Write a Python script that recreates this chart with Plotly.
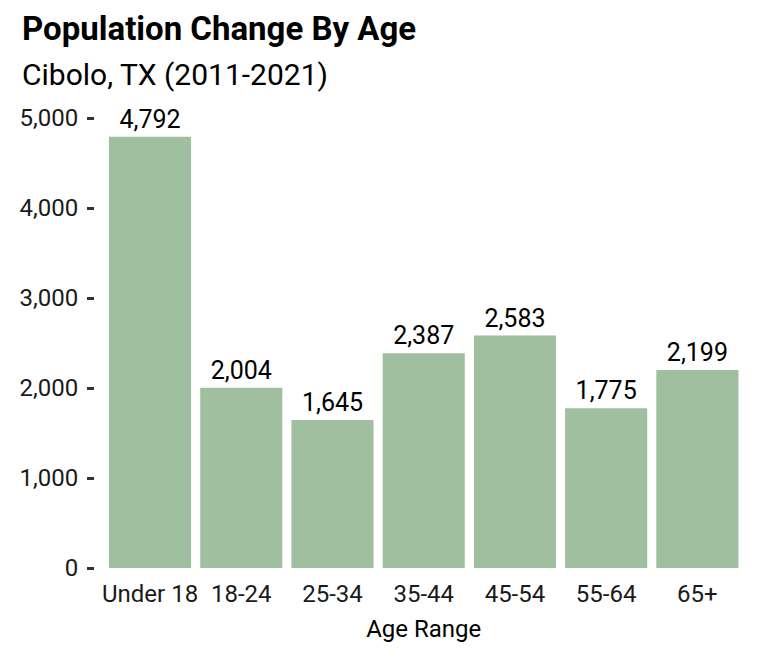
import plotly.graph_objects as go

categories = ["Under 18", "18-24", "25-34", "35-44", "45-54", "55-64", "65+"]
values = [4792, 2004, 1645, 2387, 2583, 1775, 2199]
y_ticks = [0, 1000, 2000, 3000, 4000, 5000]
y_tick_labels = ["0", "1,000", "2,000", "3,000", "4,000", "5,000"]

W, H = 770, 660
L, R, T, B = 82, 34.5, 110, 100
FONT = "Roboto"

plot_w = W - L - R
plot_h = H - T - B
x_start = 10.5 / plot_w

fig = go.Figure(go.Bar(
    x=categories, y=values,
    marker=dict(color="#9fbf9e", line=dict(width=0)),
    text=[f"{v:,}" for v in values],
    textposition="outside",
    textfont=dict(family=FONT, size=25, color="#000000"),
    cliponaxis=False,
    width=0.9,
))

fig.update_layout(
    width=W, height=H,
    margin=dict(l=L, r=R, t=T, b=B, pad=0),
    paper_bgcolor="white", plot_bgcolor="white",
    font=dict(family=FONT, size=24, color="#000000"),
    showlegend=False,
    xaxis=dict(
        domain=[x_start, 1],
        showgrid=False, zeroline=False, showline=False,
        ticks="outside", ticklen=4, tickcolor="rgba(0,0,0,0)",
        tickfont=dict(family=FONT, size=24, color="#1a1a1a"),
        title=dict(text="Age Range", font=dict(family=FONT, size=24, color="#000000"), standoff=13),
    ),
    yaxis=dict(
        range=[0, 5000],
        tickvals=y_ticks, ticktext=y_tick_labels,
        showgrid=False, zeroline=False, showline=False,
        anchor="free", position=0,
        ticks="outside", ticklen=7, tickwidth=2.5, tickcolor="#333333",
        tickfont=dict(family=FONT, size=24, color="#1a1a1a"),
        ticklabelstandoff=4,
    ),
    annotations=[
        dict(text="<b>Population Change By Age</b>", xref="paper", yref="paper",
             x=-(L - 7) / plot_w, y=1 + (T + 1) / plot_h,
             xanchor="left", yanchor="top", showarrow=False,
             font=dict(family=FONT, size=33, color="#000000")),
        dict(text="Cibolo, TX (2011-2021)", xref="paper", yref="paper",
             x=-(L - 7) / plot_w, y=1 + (T - 47) / plot_h,
             xanchor="left", yanchor="top", showarrow=False,
             font=dict(family=FONT, size=30, color="#000000")),
    ],
)

fig.write_html("out.html")
